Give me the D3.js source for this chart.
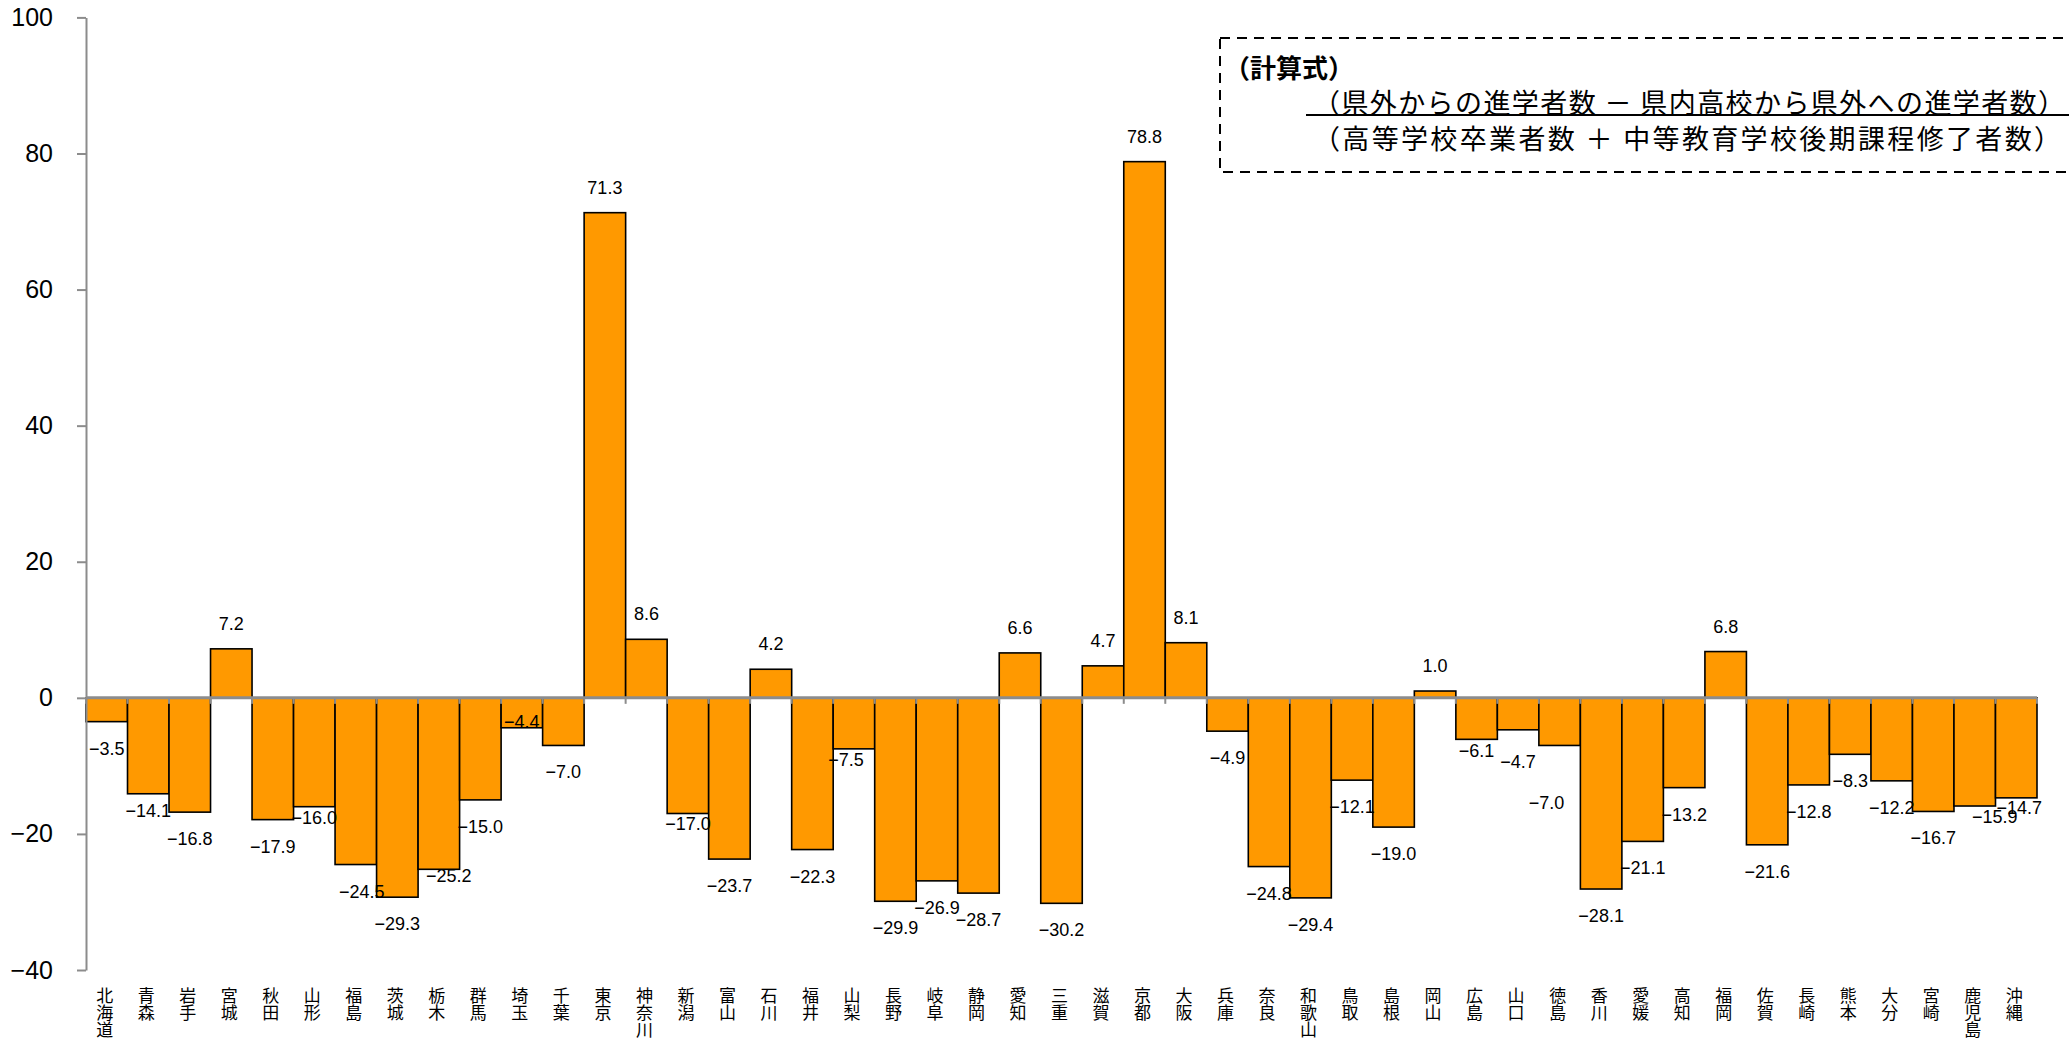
<!DOCTYPE html>
<html>
<head>
<meta charset="utf-8">
<script src="https://cdn.jsdelivr.net/npm/d3@7"></script>
<style>
  html, body { margin: 0; padding: 0; background: #fff; }
  svg { display: block; }
</style>
</head>
<body>
<svg id="chart" width="2069" height="1042"></svg>
<script>
// ---- data ----
const prefectures = ["北海道","青森","岩手","宮城","秋田","山形","福島","茨城","栃木","群馬","埼玉","千葉","東京","神奈川","新潟","富山","石川","福井","山梨","長野","岐阜","静岡","愛知","三重","滋賀","京都","大阪","兵庫","奈良","和歌山","鳥取","島根","岡山","広島","山口","徳島","香川","愛媛","高知","福岡","佐賀","長崎","熊本","大分","宮崎","鹿児島","沖縄"];
const values = [-3.5,-14.1,-16.8,7.2,-17.9,-16.0,-24.5,-29.3,-25.2,-15.0,-4.4,-7.0,71.3,8.6,-17.0,-23.7,4.2,-22.3,-7.5,-29.9,-26.9,-28.7,6.6,-30.2,4.7,78.8,8.1,-4.9,-24.8,-29.4,-12.1,-19.0,1.0,-6.1,-4.7,-7.0,-28.1,-21.1,-13.2,6.8,-21.6,-12.8,-8.3,-12.2,-16.7,-15.9,-14.7];
const yTicks = [-40,-20,0,20,40,60,80,100];
const formulaTitle = "（計算式）";
const formulaNumerator = "（県外からの進学者数 － 県内高校から県外への進学者数）";
const formulaDenominator = "（高等学校卒業者数 ＋ 中等教育学校後期課程修了者数）";

// label layout nudges (dx, dy in px) for labels moved off their default spot
const labelNudge = {"青森":[0,-10],"山形":[0,-16],"福島":[6,0],"栃木":[10,-20],"埼玉":[0,-33],"新潟":[0,-17],"山梨":[-8,-16],"広島":[0,-15],"山口":[0,5],"徳島":[-13,31],"鹿児島":[20,-16],"沖縄":[3,-17]};

const data = prefectures.map((p, i) => ({ name: p, value: values[i] }));

const svg = d3.select("#chart");
const x = d3.scaleBand().domain(prefectures).range([86, 2037]).padding(0);
const y = d3.scaleLinear().domain([-40, 100]).range([970, 17.4]);
const axisColor = "#8c8c8c";
const numFont = "'Liberation Sans', Arial, sans-serif";
const jpFont = "'Noto Sans CJK JP', sans-serif";

// bars
svg.append("g").selectAll("rect").data(data).join("rect")
  .attr("x", d => x(d.name))
  .attr("width", x.bandwidth())
  .attr("y", d => y(Math.max(0, d.value)))
  .attr("height", d => Math.abs(y(d.value) - y(0)))
  .attr("fill", "#FF9900")
  .attr("stroke", "#000")
  .attr("stroke-width", 1.6);

// y axis
const yAxis = svg.append("g").attr("transform", "translate(86,0)")
  .call(d3.axisLeft(y).tickValues(yTicks).tickSize(9).tickSizeOuter(0).tickPadding(24).tickFormat(d3.format("d")));
yAxis.select(".domain").attr("stroke", axisColor).attr("stroke-width", 2);
yAxis.selectAll(".tick line").attr("stroke", axisColor).attr("stroke-width", 2);
yAxis.selectAll(".tick text").attr("font-family", numFont).attr("font-size", 25).attr("fill", "#000");

// x axis at zero: ticks at category boundaries
const boundaries = prefectures.map(p => x(p)).concat([x.range()[1]]);
svg.append("g").selectAll("line").data(boundaries).join("line")
  .attr("x1", d => d).attr("x2", d => d)
  .attr("y1", y(0)).attr("y2", y(0) + 6)
  .attr("stroke", axisColor).attr("stroke-width", 2);
svg.append("line")
  .attr("x1", x.range()[0]).attr("x2", x.range()[1])
  .attr("y1", y(0)).attr("y2", y(0))
  .attr("stroke", axisColor).attr("stroke-width", 3);

// data labels
svg.append("g").selectAll("text").data(data).join("text")
  .attr("x", d => x(d.name) + x.bandwidth() / 2 + (labelNudge[d.name] ? labelNudge[d.name][0] : 0))
  .attr("y", d => (d.value >= 0 ? y(d.value) - 25 : y(d.value) + 27) + (labelNudge[d.name] ? labelNudge[d.name][1] : 0))
  .attr("text-anchor", "middle")
  .attr("dominant-baseline", "central")
  .attr("font-family", numFont)
  .attr("font-size", 18)
  .attr("fill", "#000")
  .text(d => d3.format(".1f")(d.value));

// category labels (vertical, upright characters)
svg.append("g").selectAll("text").data(prefectures).join("text")
  .attr("x", d => x(d) + x.bandwidth() / 2 - 2)
  .attr("y", 987)
  .attr("text-anchor", "start")
  .attr("font-family", jpFont)
  .attr("font-size", 17)
  .style("writing-mode", "vertical-rl")
  .style("text-orientation", "upright")
  .attr("fill", "#000")
  .text(d => d);

// formula box
const box = svg.append("g");
box.append("rect")
  .attr("x", 1220).attr("y", 38).attr("width", 900).attr("height", 134)
  .attr("fill", "#fff").attr("stroke", "#000").attr("stroke-width", 2)
  .attr("stroke-dasharray", "10,7");
box.append("text")
  .attr("x", 1224).attr("y", 66)
  .attr("dominant-baseline", "central")
  .attr("font-family", jpFont).attr("font-size", 26).attr("font-weight", "bold")
  .text(formulaTitle);
box.append("text")
  .attr("x", 1313).attr("y", 101)
  .attr("dominant-baseline", "central")
  .attr("font-family", jpFont).attr("font-size", 27)
  .attr("textLength", 752).attr("lengthAdjust", "spacing")
  .text(formulaNumerator);
box.append("line")
  .attr("x1", 1306).attr("x2", 2069).attr("y1", 115).attr("y2", 115)
  .attr("stroke", "#000").attr("stroke-width", 2);
box.append("text")
  .attr("x", 1313).attr("y", 137)
  .attr("dominant-baseline", "central")
  .attr("font-family", jpFont).attr("font-size", 27)
  .attr("textLength", 748).attr("lengthAdjust", "spacing")
  .text(formulaDenominator);
</script>
</body>
</html>
